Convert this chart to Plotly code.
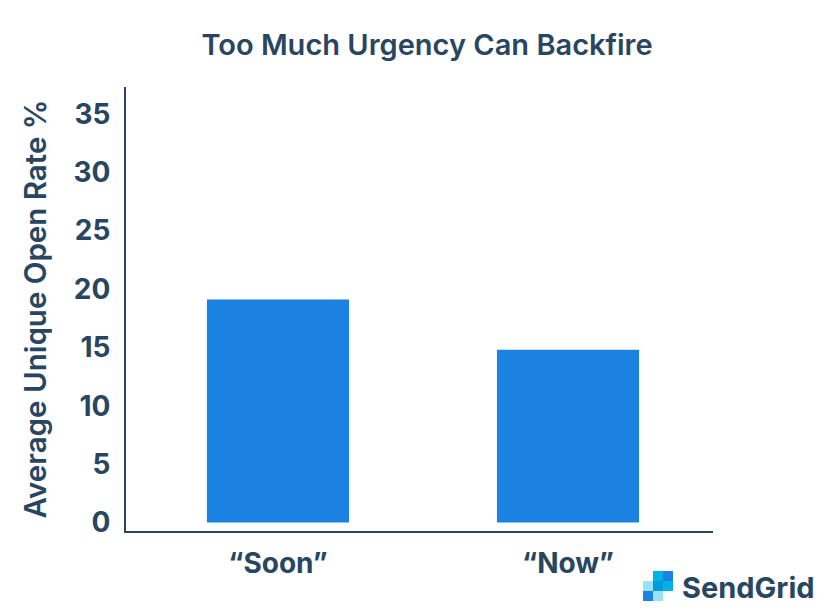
import plotly.graph_objects as go

# ---- data ----
categories = ["\u201cSoon\u201d", "\u201cNow\u201d"]
open_rates = [19.1, 14.8]
y_tick_values = [0, 5, 10, 15, 20, 25, 30, 35]
y_tick_labels = ["0", "5", "10", "15", "20", "25", "30", "35"]

title_text = "Too Much Urgency Can Backfire"
y_title_text = "Average Unique Open Rate %"

NAVY = "#294661"
BLUE = "#1b82e2"
FONT = "Inter"

W, H = 825, 613
ML, MR, MT, MB = 126, 112, 87, 82
PW = W - ML - MR
PH = H - MT - MB


def px_x(p):
    return (p - ML) / PW


def px_y(p):
    return (H - MB - p) / PH


fig = go.Figure(
    go.Bar(
        x=categories,
        y=open_rates,
        marker=dict(color=BLUE, line=dict(width=0)),
        width=0.49,
        hoverinfo="x+y",
    )
)

fig.update_layout(
    width=W,
    height=H,
    margin=dict(l=ML, r=MR, t=MT, b=MB, autoexpand=False),
    paper_bgcolor="white",
    plot_bgcolor="white",
    showlegend=False,
    font=dict(family=FONT, color=NAVY),
    title=dict(
        text=title_text,
        x=px_x(427), xref="paper", xanchor="center",
        y=1 - 45 / H, yref="container", yanchor="middle",
        font=dict(family=FONT, size=29, color=NAVY, weight=600),
    ),
    xaxis=dict(
        type="category",
        range=[-0.524, 1.5],
        showline=True, linecolor=NAVY, linewidth=2,
        showgrid=False, zeroline=False, ticks="",
        tickfont=dict(family=FONT, size=28, color=NAVY, weight=700),
        ticklabelstandoff=6,
        fixedrange=True,
    ),
    yaxis=dict(
        range=[-0.72, 37.3],
        tickvals=y_tick_values,
        ticktext=y_tick_labels,
        showline=True, linecolor=NAVY, linewidth=2,
        showgrid=False, zeroline=False, ticks="",
        tickfont=dict(family=FONT, size=28, color=NAVY, weight=700),
        ticklabelstandoff=8,
        title=dict(text=y_title_text, standoff=18,
                   font=dict(family=FONT, size=29.5, color=NAVY, weight=600)),
        fixedrange=True,
    ),
)

# ---- SendGrid logo (decoration) ----
logo_cells = [
    (653, 571, "#00b3e3"), (663, 571, "#1a82e2"),
    (643, 581, "#99e1f4"), (653, 581, "#009dd9"), (663, 581, "#00b3e3"),
    (643, 591, "#1a82e2"), (653, 591, "#99e1f4"),
]
for cx, cy, col in logo_cells:
    fig.add_shape(
        type="rect", xref="paper", yref="paper",
        x0=px_x(cx), x1=px_x(cx + 10), y0=px_y(cy + 10), y1=px_y(cy),
        fillcolor=col, line=dict(width=0), layer="above",
    )
fig.add_annotation(
    text="SendGrid", xref="paper", yref="paper",
    x=px_x(680), y=px_y(587), xanchor="left", yanchor="middle",
    showarrow=False,
    font=dict(family=FONT, size=29, color=NAVY, weight=700),
)

fig.write_html(
    "out.html",
    config={"displayModeBar": False},
    post_script="document.body.style.margin='0px';document.body.style.overflow='hidden';",
)
